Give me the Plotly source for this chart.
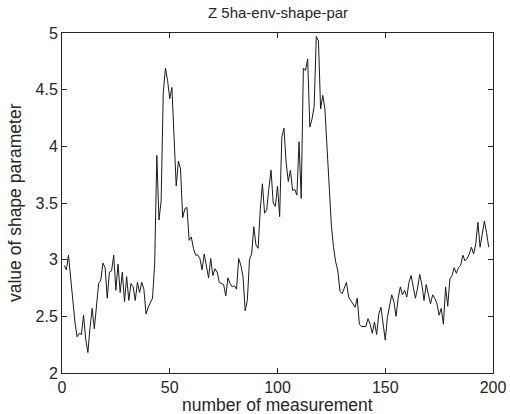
import plotly.graph_objects as go

measurement = list(range(1, 199))
shape_param = [
    2.95, 2.91, 3.04, 2.85, 2.62, 2.45, 2.32, 2.35, 2.34, 2.51,
    2.30, 2.18, 2.40, 2.57, 2.39, 2.62, 2.79, 2.82, 2.97, 2.93,
    2.66, 2.89, 2.90, 3.04, 2.73, 2.96, 2.71, 2.89, 2.63, 2.85,
    2.64, 2.79, 2.76, 2.64, 2.80, 2.71, 2.80, 2.74, 2.52, 2.58,
    2.62, 2.66, 2.96, 3.92, 3.35, 3.52, 4.48, 4.69, 4.58, 4.42,
    4.52, 4.08, 3.65, 3.87, 3.80, 3.37, 3.45, 3.46, 3.17, 3.20,
    3.10, 3.04, 3.04, 3.01, 2.91, 3.05, 2.95, 2.84, 3.01, 2.86,
    2.92, 2.89, 2.80, 2.79, 2.78, 2.68, 2.84, 2.79, 2.76, 2.77,
    2.74, 3.01, 2.95, 2.85, 2.55, 2.64, 3.00, 3.05, 3.29, 3.13,
    3.10, 3.44, 3.67, 3.41, 3.44, 3.63, 3.79, 3.50, 3.47, 3.65,
    3.38, 4.08, 4.16, 3.86, 3.69, 3.79, 3.61, 3.62, 3.57, 4.04,
    3.54, 4.69, 4.67, 4.77, 4.17, 4.24, 4.35, 4.97, 4.93, 4.33,
    4.45, 4.33, 3.95, 3.60, 3.30, 3.11, 2.98, 2.90, 2.72, 2.70,
    2.76, 2.80, 2.67, 2.64, 2.61, 2.58, 2.66, 2.43, 2.41, 2.41,
    2.41, 2.48, 2.43, 2.35, 2.45, 2.34, 2.52, 2.58, 2.44, 2.29,
    2.49, 2.60, 2.69, 2.63, 2.50, 2.66, 2.76, 2.69, 2.73, 2.67,
    2.80, 2.86, 2.76, 2.66, 2.75, 2.87, 2.78, 2.64, 2.78, 2.70,
    2.61, 2.69, 2.66, 2.61, 2.51, 2.57, 2.43, 2.76, 2.59, 2.83,
    2.86, 2.93, 2.88, 2.93, 2.95, 3.04, 2.99, 3.01, 3.05, 3.11,
    3.05, 3.14, 3.33, 3.11, 3.24, 3.34, 3.24, 3.11,
]

x_ticks = [0, 50, 100, 150, 200]
y_ticks = [2, 2.5, 3, 3.5, 4, 4.5, 5]
y_tick_text = ["2", "2.5", "3", "3.5", "4", "4.5", "5"]

title_text = "Z 5ha-env-shape-par"
x_title = "number of measurement"
y_title = "value of shape parameter"

FONT = "Liberation Sans, Arial, sans-serif"
INK = "#262626"

fig = go.Figure()
fig.add_trace(go.Scatter(
    x=measurement, y=shape_param, mode="lines",
    line=dict(color="#1a1a1a", width=1), showlegend=False,
))

axis_common = dict(
    showgrid=False, zeroline=False, showline=True, mirror="ticks",
    linecolor=INK, linewidth=1, ticks="inside", ticklen=5,
    tickwidth=1, tickcolor=INK,
    tickfont=dict(family=FONT, size=16, color=INK),
)

fig.update_xaxes(range=[0, 200], tickvals=x_ticks, **axis_common)
fig.update_yaxes(range=[2, 5], tickvals=y_ticks, ticktext=y_tick_text, **axis_common)

fig.update_layout(
    width=510, height=414,
    margin=dict(l=62, r=17, t=33, b=41, autoexpand=False),
    paper_bgcolor="white", plot_bgcolor="white",
    annotations=[
        dict(text=title_text, xref="paper", yref="paper", x=0.5, y=1,
             yshift=21, showarrow=False, xanchor="center", yanchor="middle",
             font=dict(family=FONT, size=15, color=INK)),
        dict(text=x_title, xref="paper", yref="paper", x=0.5, y=0,
             yshift=-32, showarrow=False, xanchor="center", yanchor="middle",
             font=dict(family=FONT, size=17.5, color=INK)),
        dict(text=y_title, xref="paper", yref="paper", x=0, y=0.5,
             xshift=-47, textangle=-90, showarrow=False,
             xanchor="center", yanchor="middle",
             font=dict(family=FONT, size=17.5, color=INK)),
    ],
)

fig.write_html("out.html")
